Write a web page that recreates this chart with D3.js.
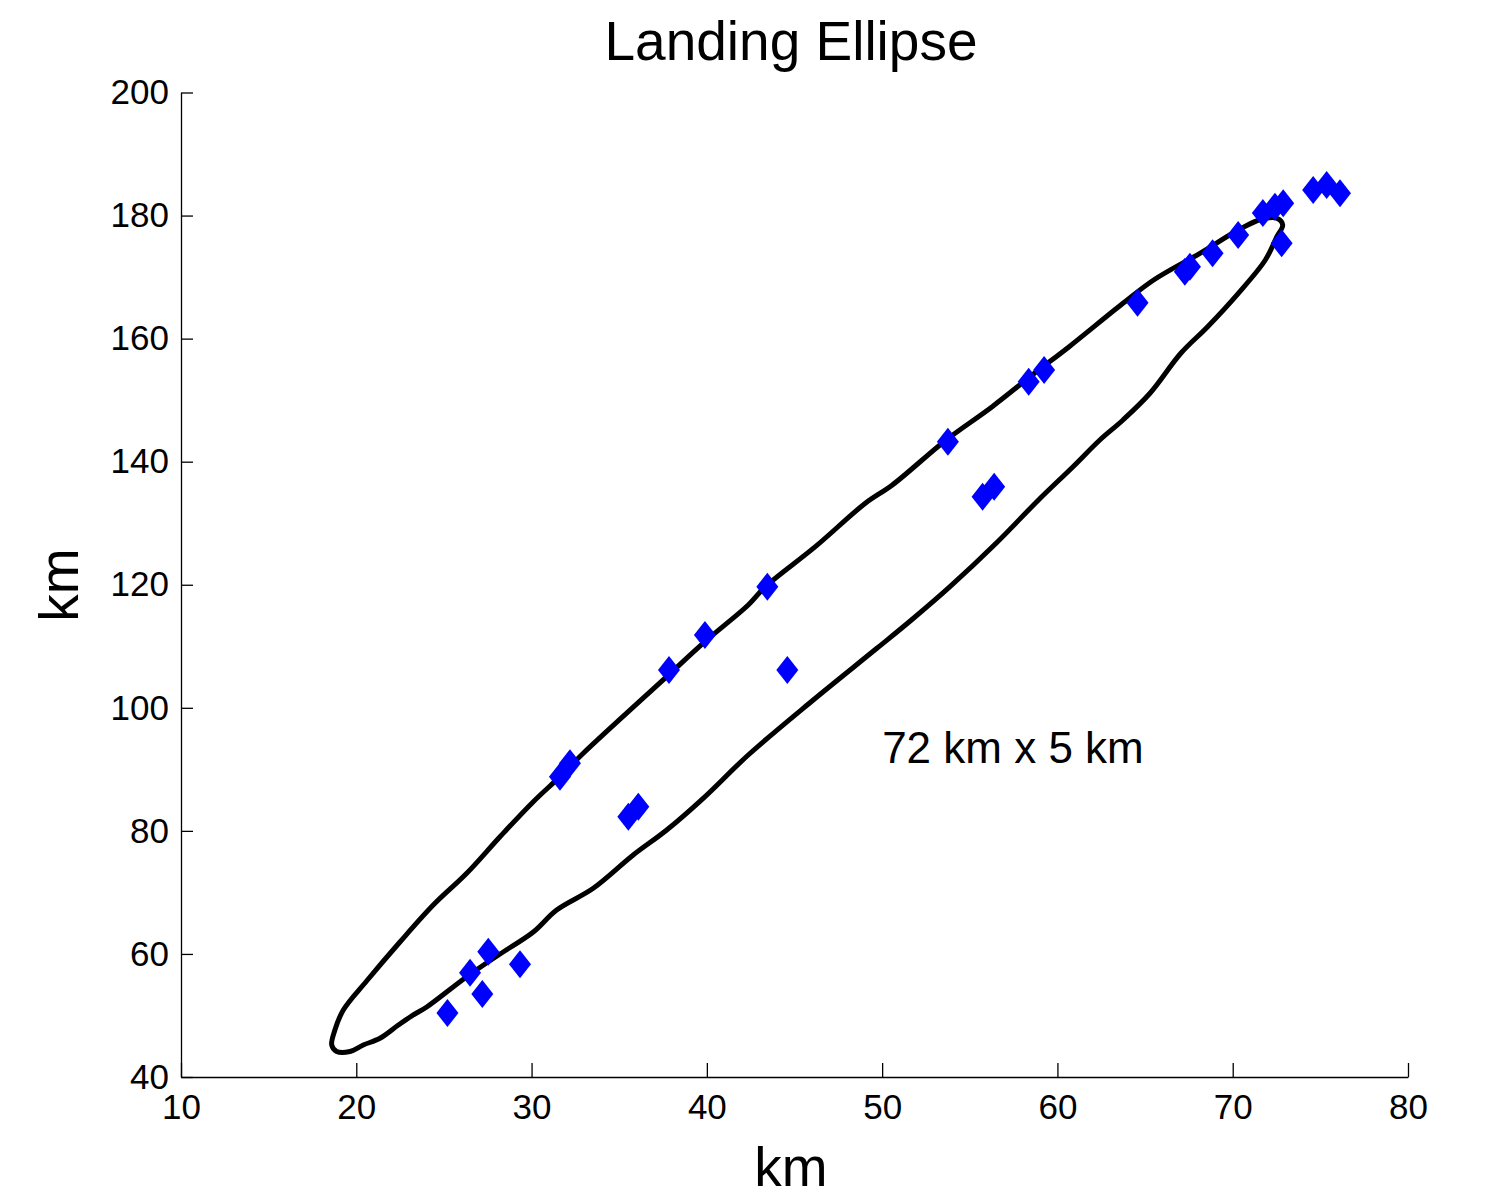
<!DOCTYPE html>
<html>
<head>
<meta charset="utf-8">
<script src="https://cdn.jsdelivr.net/npm/d3@7"></script>
<style>
  html, body { margin: 0; padding: 0; background: #ffffff; }
  svg { display: block; }
  text { font-family: "Liberation Sans", Arial, sans-serif; fill: #000; }
</style>
</head>
<body>
<svg id="chart" width="1489" height="1200"></svg>
<script>
// ---- Data ----
const titleText = "Landing Ellipse";
const xLabelText = "km";
const yLabelText = "km";
const annotationText = "72 km x 5 km";
const annotationPos = [50.0, 91.0];

const xTicks = [10, 20, 30, 40, 50, 60, 70, 80];
const yTicks = [40, 60, 80, 100, 120, 140, 160, 180, 200];

// landing points (km, km)
const pointX = [25.20, 26.49, 27.19, 27.53, 29.34, 31.62, 32.19, 35.52, 36.09, 37.84,
                39.89, 43.45, 44.59, 53.75, 55.73, 56.39, 58.36, 59.24, 64.57, 67.27,
                67.56, 68.85, 70.31, 71.72, 72.41, 72.88, 72.79, 74.59, 75.36, 76.12];
const pointY = [50.40, 56.95, 53.49, 60.36, 58.32, 88.81, 90.98, 82.31, 83.93, 106.15,
                111.83, 119.69, 106.15, 143.25, 134.31, 135.94, 153.00, 154.90, 165.84, 170.88,
                171.70, 173.87, 176.84, 180.40, 181.44, 182.00, 175.50, 184.16, 184.97, 183.62];

// landing ellipse outline (closed), km
const ellipseX = [18.88, 18.60, 18.78, 19.26, 20.59, 22.49, 24.39, 26.30, 28.20, 30.10,
                  31.62, 32.95, 37.71, 39.89, 42.36, 43.34, 46.19, 49.04, 50.58,
                  53.65, 56.28, 58.69, 60.67, 63.74, 65.49, 68.13, 70.32, 71.64, 72.52,
                  72.85, 72.52, 71.86, 70.32, 68.57, 67.04, 65.28, 63.74, 62.42, 60.89,
                  58.92, 56.50, 53.87, 51.67, 49.70, 46.00, 42.36, 39.79, 37.71, 35.80,
                  33.52, 31.43, 30.10, 28.20, 26.30, 24.02, 23.17, 22.38, 21.35, 20.40,
                  19.64];
const ellipseY = [44.14, 45.20, 47.64, 50.89, 55.60, 61.94, 67.95, 73.11, 79.05, 84.74,
                  88.81, 92.61, 105.06, 110.75, 116.71, 119.69, 126.19, 133.24, 136.21,
                  143.53, 148.94, 154.37, 158.69, 165.74, 169.53, 173.87, 177.66, 179.40, 179.56,
                  178.47, 176.57, 172.78, 167.37, 161.94, 157.62, 151.12, 146.78, 143.53, 139.19,
                  133.78, 126.74, 119.69, 114.27, 109.67, 101.11, 92.33, 85.29, 80.14, 76.08,
                  70.67, 67.14, 63.57, 59.99, 56.30, 51.38, 49.95, 48.40, 46.29, 45.20,
                  44.14];

// ---- Layout ----
const svg = d3.select("#chart");
const x = d3.scaleLinear().domain([10, 80]).range([181, 1408]);
const y = d3.scaleLinear().domain([40, 200]).range([1077, 92.5]);

// axes
const xAxis = d3.axisBottom(x).tickValues(xTicks).tickFormat(d3.format("d"))
  .tickSizeInner(-14).tickSizeOuter(0).tickPadding(17);
const yAxis = d3.axisLeft(y).tickValues(yTicks).tickFormat(d3.format("d"))
  .tickSizeInner(-12).tickSizeOuter(0).tickPadding(12);

const gx = svg.append("g").attr("transform", `translate(0,${y(40)})`).call(xAxis);
const gy = svg.append("g").attr("transform", `translate(${x(10)},0)`).call(yAxis);
[gx, gy].forEach(g => {
  g.selectAll("path.domain").attr("stroke", "#000").attr("stroke-width", 1.3);
  g.selectAll(".tick line").attr("stroke", "#000").attr("stroke-width", 1.3);
  g.selectAll(".tick text").attr("font-size", 35)
    .attr("font-family", "'Liberation Sans', Arial, sans-serif").attr("fill", "#000");
});

// ellipse outline
const ellipsePts = ellipseX.map((d, i) => [d, ellipseY[i]]);
const line = d3.line().x(d => x(d[0])).y(d => y(d[1]))
  .curve(d3.curveCatmullRomClosed.alpha(0.5));
svg.append("path").datum(ellipsePts)
  .attr("d", line)
  .attr("fill", "none").attr("stroke", "#000").attr("stroke-width", 5)
  .attr("stroke-linejoin", "round");

// points (diamonds)
const pts = pointX.map((d, i) => [d, pointY[i]]);
const hw = 11, hh = 14;
svg.append("g").selectAll("path").data(pts).join("path")
  .attr("transform", d => `translate(${x(d[0])},${y(d[1])})`)
  .attr("d", `M0,${-hh}L${hw},0L0,${hh}L${-hw},0Z`)
  .attr("fill", "#0000ff");

// title and labels
svg.append("text").attr("x", 791).attr("y", 60).attr("text-anchor", "middle")
  .attr("font-size", 55).text(titleText);
svg.append("text").attr("x", 791).attr("y", 1186).attr("text-anchor", "middle")
  .attr("font-size", 55).text(xLabelText);
svg.append("text").attr("transform", "translate(78,585) rotate(-90)")
  .attr("text-anchor", "middle").attr("font-size", 55).text(yLabelText);

// annotation
svg.append("text").attr("x", x(annotationPos[0])).attr("y", y(annotationPos[1]))
  .attr("font-size", 44).text(annotationText);
</script>
</body>
</html>
